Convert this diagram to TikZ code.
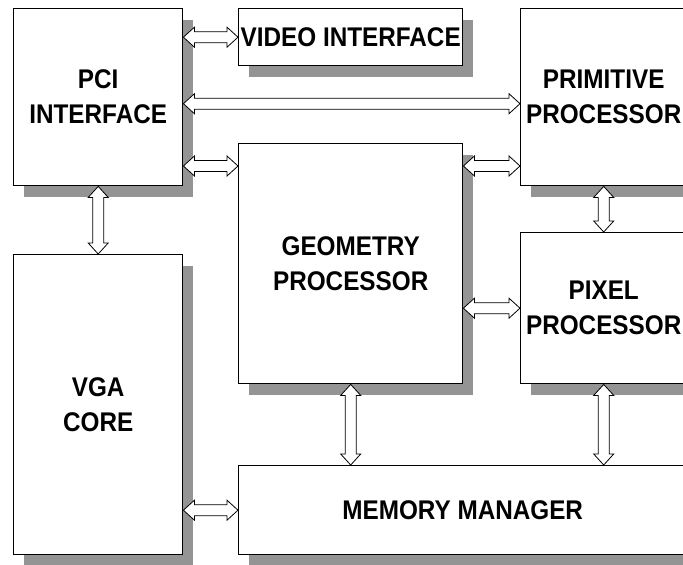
\documentclass[tikz,border=0pt]{standalone}
\usepackage{fontspec}
\setmainfont{Liberation Sans}[FakeStretch=0.9]
\usepackage{xcolor}
\usetikzlibrary{calc, shadows}

\definecolor{shadowgray}{gray}{0.58}

\tikzset{
    block/.style={draw, line width=1.4pt, fill=white, anchor=north west,
        align=center, inner sep=0pt,
        font=\bfseries\fontsize{27}{35}\selectfont,
        drop shadow={shadow xshift=10.5pt, shadow yshift=-11.5pt,
            fill=shadowgray, opacity=1}},
    bus/.style={draw, line width=0.8pt, fill=white, line join=miter},
    hbus/.style={bus, to path={
        let \p1=(\tikztostart), \p2=(\tikztotarget) in
        (\x1,\y1) -- ++(11pt,10pt) -- ++(0pt,-4.5pt) -- (\x2-11pt,\y1+5.5pt)
        -- ++(0pt,4.5pt) -- (\x2,\y1) -- ++(-11pt,-10pt) -- ++(0pt,4.5pt)
        -- (\x1+11pt,\y1-5.5pt) -- ++(0pt,-4.5pt) -- cycle}},
    vbus/.style={bus, to path={
        let \p1=(\tikztostart), \p2=(\tikztotarget) in
        (\x1,\y1) -- ++(-10pt,-11pt) -- ++(4.5pt,0pt) -- (\x1-5.5pt,\y2+11pt)
        -- ++(-4.5pt,0pt) -- (\x1,\y2) -- ++(10pt,11pt) -- ++(-4.5pt,0pt)
        -- (\x1+5.5pt,\y1-11pt) -- ++(4.5pt,0pt) -- cycle}}
}

\begin{document}
\begin{tikzpicture}[x=1pt, y=-1pt]
    \useasboundingbox (0,0) rectangle (683,565);

    % Blocks
    \node[block, minimum width=169, minimum height=177] (pci) at (13,8) {PCI\\INTERFACE};
    \node[block, minimum width=224, minimum height=57] (video) at (238,8) {VIDEO INTERFACE};
    \node[block, minimum width=166, minimum height=177] (prim) at (520,8) {PRIMITIVE\\PROCESSOR};
    \node[block, minimum width=224, minimum height=240] (geo) at (238,143) {GEOMETRY\\PROCESSOR};
    \node[block, minimum width=166, minimum height=151] (pixel) at (520,232) {PIXEL\\PROCESSOR};
    \node[block, minimum width=169, minimum height=300] (vga) at (13,254) {VGA\\CORE};
    \node[block, minimum width=448, minimum height=89] (mem) at (238,465) {MEMORY MANAGER};

    % Busses
    \coordinate (midbus) at (0,166);
    \draw[hbus] (pci.east |- video.west) to (video.west);
    \draw[hbus] ([yshift=-6.5pt]pci.east) to ([yshift=-6.5pt]prim.west);
    \draw[hbus] (pci.east |- midbus) to (geo.west |- midbus);
    \draw[hbus] (geo.east |- midbus) to (prim.west |- midbus);
    \draw[hbus] (geo.east |- pixel.west) to (pixel.west);
    \draw[hbus] (vga.east |- mem.west) to (mem.west);
    \draw[vbus] (pci.south) to (vga.north);
    \draw[vbus] (prim.south) to (prim.south |- pixel.north);
    \draw[vbus] (geo.south) to (geo.south |- mem.north);
    \draw[vbus] (pixel.south) to (pixel.south |- mem.north);

\end{tikzpicture}
\end{document}
